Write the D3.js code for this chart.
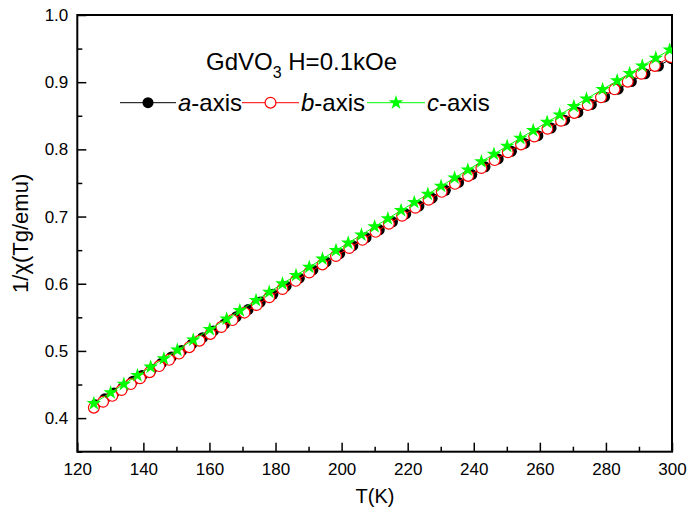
<!DOCTYPE html>
<html><head><meta charset="utf-8">
<script src="https://cdn.jsdelivr.net/npm/d3@7"></script>
<style>
body{margin:0;background:#fff}
text{font-family:Arial,"Liberation Sans",sans-serif;fill:#000}
</style>
</head><body>
<svg id="chart" width="687" height="521"></svg>
<script>
// ---- data ----
const xTickValues = [120,140,160,180,200,220,240,260,280,300];
const xMinorValues = [130,150,170,190,210,230,250,270,290];
const yTickValues = [0.4,0.5,0.6,0.7,0.8,0.9,1.0];
const yMinorValues = [0.35,0.45,0.55,0.65,0.75,0.85,0.95];
const seriesLabels = ["a","b","c"];

const tempA = [125.4,128.3,131.1,133.9,136.8,139.6,142.5,145.5,148.5,151.6,154.7,157.9,161.2,164.6,168.1,171.7,175.4,179.2,183.2,187.2,191.3,195.3,199.4,203.4,207.4,211.4,215.4,219.4,223.4,227.4,231.4,235.4,239.4,243.4,247.4,251.4,255.4,259.4,263.4,267.5,271.5,275.6,279.6,283.7,287.7,291.8,295.9,299.8];
const invChiA = [0.4197,0.4287,0.4374,0.4461,0.4550,0.4636,0.4726,0.4818,0.4910,0.5005,0.5100,0.5197,0.5298,0.5401,0.5507,0.5616,0.5728,0.5843,0.5963,0.6083,0.6206,0.6325,0.6447,0.6566,0.6685,0.6803,0.6922,0.7039,0.7157,0.7274,0.7391,0.7508,0.7625,0.7741,0.7857,0.7972,0.8088,0.8203,0.8318,0.8435,0.8549,0.8666,0.8780,0.8896,0.9009,0.9125,0.9240,0.9350];

const tempB = [125.0,127.8,130.6,133.4,136.2,139.0,141.9,144.8,147.8,150.8,153.9,157.0,160.3,163.6,167.0,170.6,174.3,178.1,182.1,186.1,190.2,194.2,198.3,202.3,206.3,210.3,214.3,218.3,222.3,226.3,230.3,234.3,238.3,242.3,246.3,250.3,254.3,258.3,262.3,266.4,270.4,274.5,278.5,282.6,286.6,290.7,294.8,299.5];
const invChiB = [0.4155,0.4243,0.4331,0.4418,0.4506,0.4593,0.4684,0.4774,0.4867,0.4960,0.5056,0.5152,0.5253,0.5355,0.5459,0.5570,0.5683,0.5799,0.5921,0.6043,0.6167,0.6288,0.6412,0.6532,0.6653,0.6772,0.6892,0.7012,0.7131,0.7250,0.7368,0.7487,0.7605,0.7722,0.7840,0.7957,0.8074,0.8191,0.8307,0.8426,0.8542,0.8660,0.8775,0.8893,0.9008,0.9125,0.9242,0.9376];

const tempC = [125.0,130.1,134.1,138.2,142.2,146.2,150.3,155.1,160.1,165.2,169.2,174.1,178.1,182.1,186.2,190.2,194.2,198.3,202.0,206.0,210.0,214.0,218.0,222.0,226.1,230.1,234.2,238.2,242.3,246.1,250.1,254.1,258.0,262.2,266.0,270.3,274.1,279.0,283.4,287.2,291.0,295.1,299.3];
const invChiC = [0.4218,0.4380,0.4505,0.4635,0.4761,0.4886,0.5014,0.5164,0.5320,0.5478,0.5602,0.5753,0.5876,0.6000,0.6125,0.6248,0.6370,0.6495,0.6607,0.6728,0.6850,0.6970,0.7091,0.7211,0.7334,0.7454,0.7576,0.7695,0.7817,0.7930,0.8048,0.8166,0.8281,0.8404,0.8515,0.8641,0.8752,0.8894,0.9022,0.9132,0.9242,0.9360,0.9480];

// ---- layout ----
const svg = d3.select("#chart");
const L = 77.3, R = 672, T = 15, B = 451.7;
const x = d3.scaleLinear().domain([120,300]).range([L,R]);
const y = d3.scaleLinear().domain([0.35,1.0]).range([B,T]);

svg.append("defs").append("clipPath").attr("id","clip")
  .append("rect").attr("x",L).attr("y",T).attr("width",R-L).attr("height",B-T);

function styleAxis(g){
  g.select(".domain").remove();
  g.selectAll(".tick line").attr("stroke","#000").attr("stroke-width",1.5);
  g.selectAll(".tick text").style("font-size","17px").style("font-family","Arial, 'Liberation Sans', sans-serif");
}

// bottom axis
svg.append("g").attr("transform",`translate(0,${B})`)
  .call(d3.axisBottom(x).tickValues(xTickValues).tickFormat(d3.format("d")).tickSizeInner(-9).tickSizeOuter(0).tickPadding(11))
  .call(styleAxis);
svg.append("g").attr("transform",`translate(0,${B})`)
  .call(d3.axisBottom(x).tickValues(xMinorValues).tickFormat("").tickSizeInner(-5).tickSizeOuter(0))
  .call(styleAxis);
// left axis
svg.append("g").attr("transform",`translate(${L},0)`)
  .call(d3.axisLeft(y).tickValues(yTickValues).tickFormat(d3.format(".1f")).tickSizeInner(-9).tickSizeOuter(0).tickPadding(9))
  .call(styleAxis);
svg.append("g").attr("transform",`translate(${L},0)`)
  .call(d3.axisLeft(y).tickValues(yMinorValues).tickFormat("").tickSizeInner(-5).tickSizeOuter(0))
  .call(styleAxis);

// frame
svg.append("rect").attr("x",L).attr("y",T).attr("width",R-L).attr("height",B-T)
  .attr("fill","none").attr("stroke","#000").attr("stroke-width",2);

// axis titles
svg.append("text").attr("x",375).attr("y",503).attr("text-anchor","middle")
  .style("font-size","20px").text("T(K)");
svg.append("text").attr("transform",`translate(28,${(T+B)/2}) rotate(-90)`).attr("text-anchor","middle")
  .style("font-size","22px").text("1/χ(Tg/emu)");

// series
const series = [
  {name:seriesLabels[0], t:tempA, v:invChiA, color:"#000000", type:"dot"},
  {name:seriesLabels[1], t:tempB, v:invChiB, color:"#ff0000", type:"circle"},
  {name:seriesLabels[2], t:tempC, v:invChiC, color:"#00ff00", type:"star"}
];
const plot = svg.append("g").attr("clip-path","url(#clip)");
const line = d3.line().x(d=>x(d[0])).y(d=>y(d[1]));
const starPath = d3.symbol().type(d3.symbolStar).size(66)();

function drawMarker(g, type, color){
  if(type==="dot") g.append("circle").attr("r",5.5).attr("fill",color);
  else if(type==="circle") g.append("circle").attr("r",5.4).attr("fill","#fff").attr("stroke",color).attr("stroke-width",1.2);
  else g.append("path").attr("d",starPath).attr("fill",color);
}

series.forEach(s=>{
  const pts = s.t.map((t,i)=>[t,s.v[i]]);
  plot.append("path").datum(pts).attr("d",line).attr("fill","none").attr("stroke",s.color).attr("stroke-width",1);
  plot.selectAll(null).data(pts).enter().append("g")
    .attr("transform",d=>`translate(${x(d[0])},${y(d[1])})`)
    .each(function(){ drawMarker(d3.select(this), s.type, s.color); });
});

// legend title
const title = svg.append("text").attr("x",206).attr("y",70).style("font-size","24px");
title.append("tspan").text("GdVO");
title.append("tspan").attr("dy",8).style("font-size","16px").text("3");
title.append("tspan").attr("dy",-8).text(" H=0.1kOe");

// legend rows
const legendItems = [
  {s:series[0], x1:120, x2:176, tx:178},
  {s:series[1], x1:242, x2:299, tx:301},
  {s:series[2], x1:367, x2:425, tx:427}
];
const ly = 102.7;
legendItems.forEach(it=>{
  const g = svg.append("g");
  g.append("line").attr("x1",it.x1).attr("x2",it.x2).attr("y1",ly).attr("y2",ly)
    .attr("stroke",it.s.color).attr("stroke-width",1);
  const mg = g.append("g").attr("transform",`translate(${(it.x1+it.x2)/2},${ly})`);
  drawMarker(mg, it.s.type, it.s.color);
  const t = g.append("text").attr("x",it.tx).attr("y",ly+8.5).style("font-size","24px");
  t.append("tspan").style("font-style","italic").text(it.s.name);
  t.append("tspan").text("-axis");
});
</script>
</body></html>
